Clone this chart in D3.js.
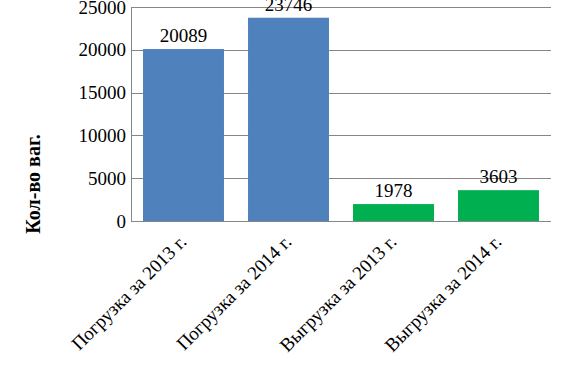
<!DOCTYPE html>
<html><head><meta charset="utf-8">
<script src="https://cdn.jsdelivr.net/npm/d3@7"></script>
<style>body{margin:0;background:#fff}svg{display:block}svg text{font-family:'Liberation Serif';}</style>
</head><body>
<svg id="c" width="562" height="373" font-family="Liberation Serif"></svg>
<script>
const categories = ["Погрузка за 2013 г.", "Погрузка за 2014 г.", "Выгрузка за 2013 г.", "Выгрузка за 2014 г."];
const values = [20089, 23746, 1978, 3603];
const colors = ["#4F81BD", "#4F81BD", "#00B050", "#00B050"];
const yTicks = [0, 5000, 10000, 15000, 20000, 25000];
const yTitle = "Кол-во ваг.";

const FONT = "Liberation Serif";
const svg = d3.select("#c");
const m = {l: 131, r: 551, t: 7, b: 221};
const x = d3.scaleBand().domain(categories).range([m.l, m.r]).paddingInner(0.229).paddingOuter(0.1145);
const y = d3.scaleLinear().domain([0, 25000]).range([m.b, m.t]);

// gridlines
svg.append("g").selectAll("line").data(yTicks).join("line")
  .attr("x1", m.l).attr("x2", m.r)
  .attr("y1", d => Math.round(y(d)) + 0.5).attr("y2", d => Math.round(y(d)) + 0.5)
  .attr("stroke", "#868686").attr("stroke-width", 1);

// y axis line
svg.append("line").attr("x1", m.l + 0.5).attr("x2", m.l + 0.5).attr("y1", m.t).attr("y2", m.b + 1)
  .attr("stroke", "#868686");

// y tick labels
const yAxis = d3.axisLeft(y).tickValues(yTicks).tickSize(0).tickPadding(5).tickFormat(d3.format("d"));
const ga = svg.append("g").attr("transform", `translate(${m.l},0)`).call(yAxis);
ga.attr("font-family", FONT).attr("font-size", 19);
ga.select(".domain").remove();
ga.selectAll("text").attr("font-family", FONT).attr("font-size", 19).attr("fill", "#000");

// bars
svg.append("g").selectAll("rect").data(values).join("rect")
  .attr("x", (d, i) => x(categories[i])).attr("width", x.bandwidth())
  .attr("y", d => y(d)).attr("height", d => y(0) - y(d))
  .attr("fill", (d, i) => colors[i]);

// data labels
svg.append("g").selectAll("text").data(values).join("text")
  .attr("x", (d, i) => x(categories[i]) + x.bandwidth() / 2)
  .attr("y", d => y(d) - 7)
  .attr("text-anchor", "middle").attr("font-size", 19).attr("font-family", FONT)
  .attr("fill", "#000")
  .text(d => d);

// category labels
svg.append("g").selectAll("text").data(categories).join("text")
  .attr("transform", d => `translate(${x(d) + x.bandwidth() / 2 + 4},${m.b + 22}) rotate(-45)`)
  .attr("text-anchor", "end").attr("font-size", 19).attr("font-family", FONT)
  .attr("fill", "#000")
  .text(d => d);

// y title
svg.append("text")
  .attr("transform", `translate(40,184) rotate(-90)`)
  .attr("text-anchor", "middle").attr("font-size", 20).attr("font-weight", "bold").attr("font-family", FONT)
  .attr("fill", "#000")
  .text(yTitle);
</script>
</body></html>
